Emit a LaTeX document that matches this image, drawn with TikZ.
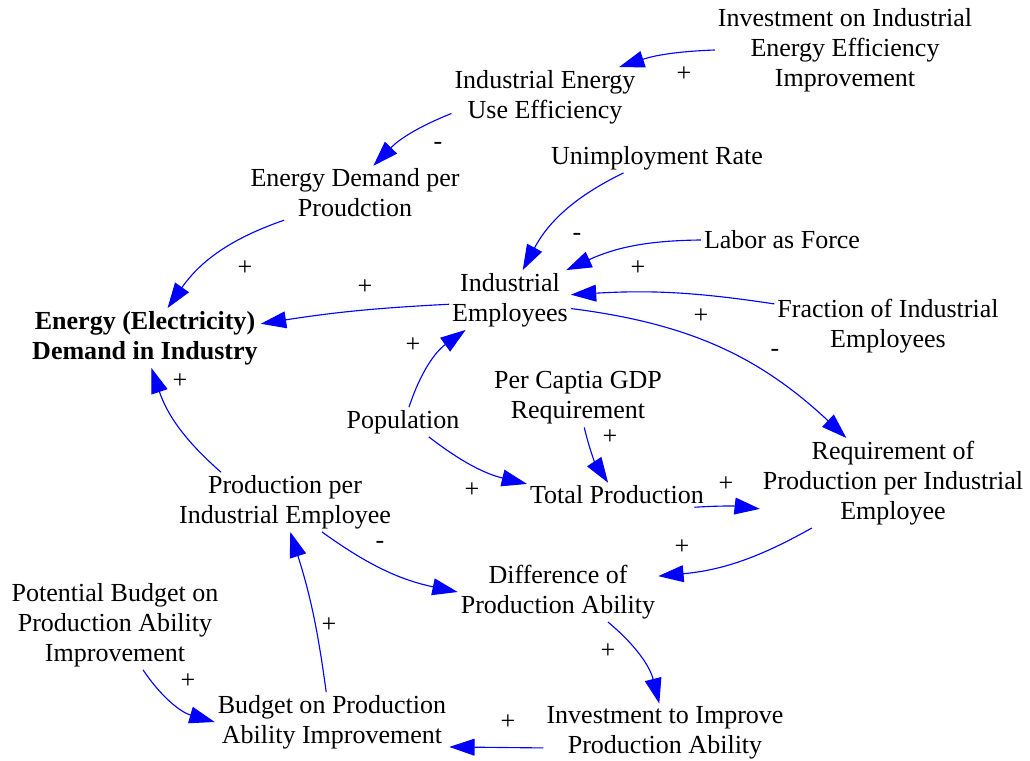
\documentclass[tikz,border=0pt]{standalone}
\usepackage{fontspec}
\setmainfont{Liberation Serif}
\usetikzlibrary{arrows.meta}
\tikzset{
  var/.style={align=center,inner sep=2pt,font=\fontsize{18.5}{21.3}\selectfont},
  varbold/.style={var,font=\fontsize{18.5}{21.3}\selectfont\bfseries},
  sign/.style={inner sep=0pt,font=\fontsize{18.5}{21.3}\selectfont},
  link/.style={-{Triangle[length=18pt,width=12pt]},draw=blue,line width=0.8pt},
}
\begin{document}
\begin{tikzpicture}[x=0.025cm,y=-0.025cm]
  \useasboundingbox (0,0) rectangle (1030,761);
  % variables
  \node[var] (invest) at (845,50) {Investment on Industrial\\Energy Efficiency\\Improvement};
  \node[var] (effic) at (545,97) {Industrial Energy\\Use Efficiency};
  \node[var] (edpp) at (355,193) {Energy Demand per\\Proudction};
  \node[varbold] (edi) at (145,338) {Energy (Electricity)\\Demand in Industry};
  \node[var] (unemp) at (657,158) {Unimployment Rate};
  \node[var] (labor) at (782,240) {Labor as Force};
  \node[var] (indemp) at (510,300) {Industrial\\Employees};
  \node[var] (fraction) at (888,326) {Fraction of Industrial\\Employees};
  \node[var] (pop) at (403,422) {Population};
  \node[var] (gdp) at (578,398) {Per Captia GDP\\Requirement};
  \node[var] (total) at (617,495) {Total Production};
  \node[var] (reqp) at (893,483) {Requirement of\\Production per Industrial\\Employee};
  \node[var] (ppie) at (285,502) {Production per\\Industrial Employee};
  \node[var] (diff) at (558,592) {Difference of\\Production Ability};
  \node[var] (potential) at (115,625) {Potential Budget on\\Production Ability\\Improvement};
  \node[var] (budget) at (332,722) {Budget on Production\\Ability Improvement};
  \node[var] (invprod) at (665,733) {Investment to Improve\\Production Ability};
  % causal links
  \draw[link] (invest.west) to[bend right=8] (effic.22);
  \draw[link] (effic.190) to[bend right=12] (edpp.56);
  \draw[link] (edpp.201) to[bend right=18] (edi.53);
  \draw[link] (indemp.184) to[bend right=3] (edi.7);
  \draw[link] (unemp.204) to[bend right=18] (indemp.67);
  \draw[link] (labor.west) to[bend right=12] (indemp.28);
  \draw[link] (fraction.169) to[bend right=6] (indemp.5);
  \draw[link] (indemp.-8) to[bend left=18] (reqp.136);
  \draw[link] (pop.68) to[bend left=18] (indemp.214);
  \draw[link] (pop.-30) to[bend right=12] (total.173);
  \draw[link] (gdp.-78) to[bend right=10] (total.126);
  \draw[link] (total.-9) to[bend left=5] (reqp.191);
  \draw[link] (reqp.209) to[bend left=12] (diff.9);
  \draw[link] (ppie.155) to[bend left=15] (edi.-78);
  \draw[link] (ppie.-39) to[bend right=12] (diff.west);
  \draw[link] (budget.101) to[bend right=5] (ppie.-80);
  \draw[link] (potential.-58) to[bend right=20] (budget.west);
  \draw[link] (diff.-31) to[bend left=18] (invprod.101);
  \draw[link] (invprod.187) to (budget.-12);
  % polarities
  \node[sign] (s1) at (684,74) {+};
  \node[sign] (s2) at (438,146) {-};
  \node[sign] (s3) at (245,268) {+};
  \node[sign] (s4) at (365,287) {+};
  \node[sign] (s5) at (577,237) {-};
  \node[sign] (s6) at (638,268) {+};
  \node[sign] (s7) at (701,316) {+};
  \node[sign] (s8) at (775,353) {-};
  \node[sign] (s9) at (413,345) {+};
  \node[sign] (s10) at (472,490) {+};
  \node[sign] (s11) at (610,437) {+};
  \node[sign] (s12) at (726,484) {+};
  \node[sign] (s13) at (682,547) {+};
  \node[sign] (s14) at (180,381) {+};
  \node[sign] (s15) at (380,545) {-};
  \node[sign] (s16) at (329,625) {+};
  \node[sign] (s17) at (188,681) {+};
  \node[sign] (s18) at (608,651) {+};
  \node[sign] (s19) at (508,722) {+};
\end{tikzpicture}
\end{document}
